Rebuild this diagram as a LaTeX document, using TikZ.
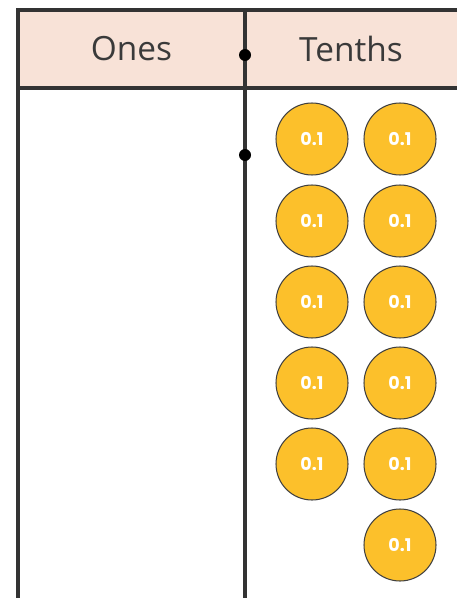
\documentclass[tikz,border=0pt]{standalone}
\usepackage{fontspec}
\setmainfont{Open Sans}
\newfontfamily\coinfont{Poppins}
\usetikzlibrary{positioning}
\definecolor{headpeach}{HTML}{F8E2D7}
\definecolor{coingold}{HTML}{FCC02B}
\definecolor{textgrey}{HTML}{3A3A3A}
\tikzset{
  coin/.style={circle, fill=coingold, draw=black!75, line width=0.6pt, minimum size=1.44cm, inner sep=0pt, text=white, font=\coinfont\bfseries\fontsize{10}{10}\selectfont},
  heading/.style={text=textgrey, font=\fontsize{19}{19}\selectfont}
}

\begin{document}
\begin{tikzpicture}[x=0.02cm, y=-0.02cm]
         \useasboundingbox (0,0) rectangle (457,598);
         \fill[headpeach] (18,10) rectangle (457,88);
         \draw[line width=1.8pt, black!80] (457,10) -- (18,10) -- (18,598);
         \draw[line width=1.8pt, black!80] (18,88) -- (457,88);
         \draw[line width=1.8pt, black!80] (245,10) -- (245,598);

         \node[heading] (ones) at (131.5,49) {Ones};
         \node[heading] (tenths) at (351,49) {Tenths};

         \fill[black] (245,55) circle (6);
         \fill[black] (245,155) circle (6);

         \node[coin] (c11) at (312,139) {0.1};
         \node[coin] (c12) at (400,139) {0.1};
         \node[coin] (c21) at (312,221) {0.1};
         \node[coin] (c22) at (400,221) {0.1};
         \node[coin] (c31) at (312,302) {0.1};
         \node[coin] (c32) at (400,302) {0.1};
         \node[coin] (c41) at (312,383) {0.1};
         \node[coin] (c42) at (400,383) {0.1};
         \node[coin] (c51) at (312,464) {0.1};
         \node[coin] (c52) at (400,464) {0.1};
         \node[coin] (c62) at (400,545) {0.1};
        \end{tikzpicture}
\end{document}
